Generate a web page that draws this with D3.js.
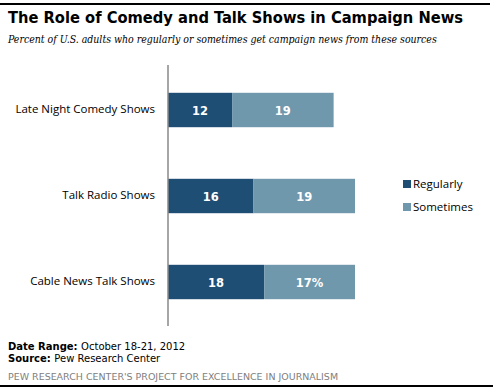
<!DOCTYPE html>
<html><head><meta charset="utf-8">
<script src="https://cdn.jsdelivr.net/npm/d3@7"></script>
<style>body{margin:0;background:#fff}svg{display:block}</style>
</head><body>
<script>
const categories = ["Late Night Comedy Shows", "Talk Radio Shows", "Cable News Talk Shows"];
const regularly = [12, 16, 18];
const sometimes = [19, 19, 17];
const seriesNames = ["Regularly", "Sometimes"];
const labelSuffix = [["", ""], ["", ""], ["", "%"]];
const colors = ["#1f4e74", "#6f98ad"];

const W = 493, H = 391;
const svg = d3.select("body").append("svg").attr("width", W).attr("height", H);

function fitText(sel, target) {
  const fs = parseFloat(sel.attr("font-size"));
  const w = sel.node().getComputedTextLength();
  if (w > 0) sel.attr("font-size", (fs * target / w).toFixed(2));
}

svg.append("line").attr("x1", 0).attr("x2", 490).attr("y1", 4).attr("y2", 4).attr("stroke", "#000").attr("stroke-width", 2);
svg.append("line").attr("x1", 0).attr("x2", 493).attr("y1", 386).attr("y2", 386).attr("stroke", "#000").attr("stroke-width", 2);

const title = svg.append("text").attr("x", 8).attr("y", 23).text("The Role of Comedy and Talk Shows in Campaign News")
  .attr("font-family", "DejaVu Sans Condensed, DejaVu Sans").attr("font-weight", "bold").attr("font-size", 17)
  .attr("fill", "#000");
fitText(title, 455);
const sub = svg.append("text").attr("x", 8).attr("y", 43).text("Percent of U.S. adults who regularly or sometimes get campaign news from these sources")
  .attr("font-family", "DejaVu Serif Condensed, DejaVu Serif").attr("font-style", "italic").attr("font-size", 11.5)
  .attr("fill", "#000");
fitText(sub, 429);

const x = d3.scaleLinear().domain([0, 35]).range([168, 355]);
const y = d3.scaleBand().domain(categories).range([67, 325]).paddingInner(0.6).paddingOuter(0.3);

const data = categories.map((c, i) => ({cat: c, vals: [regularly[i], sometimes[i]], i}));
const stack = d3.stack().keys([0, 1]).value((d, k) => d.vals[k]);
const series = stack(data);

const g = svg.append("g");
series.forEach((s, k) => {
  g.selectAll(null).data(s).enter().append("rect")
    .attr("x", d => x(d[0])).attr("width", d => x(d[1]) - x(d[0]))
    .attr("y", d => y(d.data.cat)).attr("height", y.bandwidth())
    .attr("fill", colors[k]);
  g.selectAll(null).data(s).enter().append("text")
    .attr("x", d => (x(d[0]) + x(d[1])) / 2).attr("y", d => y(d.data.cat) + y.bandwidth() / 2 + 4.5)
    .attr("text-anchor", "middle").attr("fill", "#fff").attr("font-weight", "bold")
    .attr("font-family", "DejaVu Sans").attr("font-size", 11.5)
    .text(d => (d[1] - d[0]) + labelSuffix[d.data.i][k]);
});

const axis = d3.axisLeft(y).tickSize(0).tickPadding(13);
const ag = svg.append("g").attr("transform", `translate(168,0)`).call(axis);
ag.select(".domain").remove();
ag.selectAll("text").attr("font-family", "Open Sans").attr("font-size", 11.5).attr("fill", "#000").attr("dy", "0.3em");
svg.append("line").attr("x1", 168).attr("x2", 168).attr("y1", 65).attr("y2", 326).attr("stroke", "#888").attr("stroke-width", 1.5);

const lg = svg.append("g");
seriesNames.forEach((n, k) => {
  lg.append("rect").attr("x", 403).attr("y", 180 + k * 23).attr("width", 8).attr("height", 8).attr("fill", colors[k]);
  lg.append("text").attr("x", 413).attr("y", 188 + k * 23).text(n)
    .attr("font-family", "Open Sans").attr("font-size", 11.5).attr("fill", "#000");
});

const f1 = svg.append("text").attr("x", 8).attr("y", 350).attr("font-family", "DejaVu Sans").attr("font-size", 10).attr("fill", "#000");
f1.append("tspan").attr("font-weight", "bold").text("Date Range: ");
f1.append("tspan").text(" October 18-21, 2012");
const f2 = svg.append("text").attr("x", 8).attr("y", 362).attr("font-family", "DejaVu Sans").attr("font-size", 10).attr("fill", "#000");
f2.append("tspan").attr("font-weight", "bold").text("Source: ");
f2.append("tspan").text("Pew Research Center");
const pew = svg.append("text").attr("x", 8).attr("y", 380).text("PEW RESEARCH CENTER'S PROJECT FOR EXCELLENCE IN JOURNALISM")
  .attr("font-family", "DejaVu Sans").attr("font-size", 10).attr("fill", "#808080");
fitText(pew, 330);
</script>
</body></html>
